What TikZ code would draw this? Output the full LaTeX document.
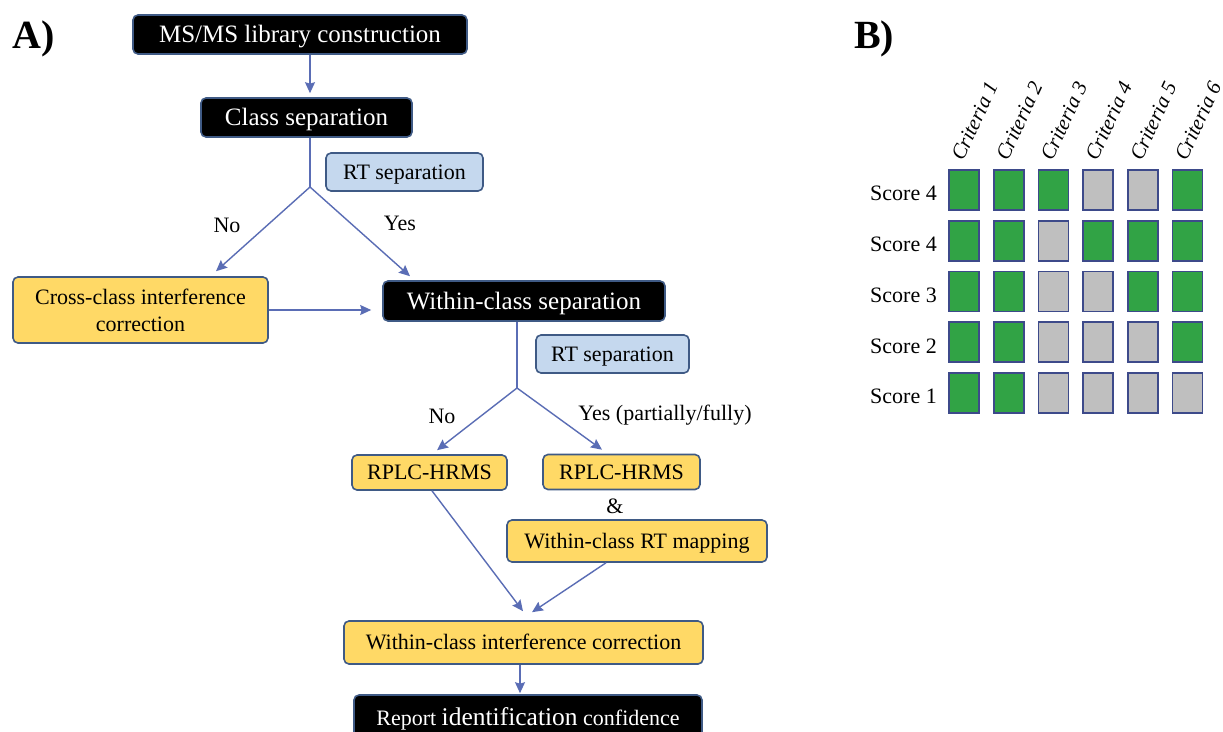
\documentclass[tikz,border=0pt]{standalone}
\usepackage{fontspec}
\setmainfont{Liberation Serif}
\usetikzlibrary{arrows.meta}
\definecolor{bord}{HTML}{3F5A85}
\definecolor{arrc}{HTML}{5A6DB5}
\definecolor{yel}{HTML}{FFD966}
\definecolor{lblue}{HTML}{C5D8EE}
\definecolor{grn}{HTML}{31A345}
\definecolor{gry}{HTML}{BFBFBF}
\definecolor{sqb}{HTML}{3D4A8A}
\tikzset{
  base/.style={draw=bord, line width=1.6pt, rounded corners=5pt, inner sep=0pt, align=center},
  blackbox/.style={base, fill=black, text=white, font=\fontsize{25}{30}\selectfont, text height=16.5pt, text depth=0pt},
  yelbox/.style={base, fill=yel, text=black, font=\fontsize{22}{27}\selectfont},
  capy/.style={text height=14.5pt, text depth=0pt},
  bluebox/.style={base, fill=lblue, text=black, font=\fontsize{22}{27}\selectfont, capy},
  lbl/.style={inner sep=0pt, font=\fontsize{22}{27}\selectfont},
  ln/.style={draw=arrc, line width=1.4pt},
  arw/.style={ln, -{Stealth[length=11pt,width=10pt,inset=1.5pt]}},
  sq/.style={draw=sqb, line width=1.8pt, minimum width=30pt, minimum height=40pt, inner sep=0pt},
  gsq/.style={sq, fill=grn},
  ysq/.style={sq, fill=gry},
  panel/.style={inner sep=0pt, font=\fontsize{40}{44}\selectfont\bfseries}
}
\begin{document}
\begin{tikzpicture}[x=1pt,y=-1pt]
\useasboundingbox (0,0) rectangle (1223,731);
\clip (0,0) rectangle (1223,731);
\fill[white] (0,0) rectangle (1223,731);

% panel labels
\node[panel, anchor=base west] (lbA) at (12,48) {A)};
\node[panel, anchor=base west] (lbB) at (854,48) {B)};

% flowchart nodes
\node[blackbox, minimum width=334pt, minimum height=39pt] (ms) at (300,34.5) {MS/MS library construction};
\node[blackbox, minimum width=211pt, minimum height=39pt] (cls) at (306.5,117.5) {Class separation};
\node[bluebox, minimum width=157pt, minimum height=38pt] (rt1) at (404.5,172) {RT separation};
\node[yelbox, minimum width=255pt, minimum height=66pt] (cross) at (140.5,310) {Cross-class interference\\correction};
\node[blackbox, minimum width=282pt, minimum height=40pt] (within) at (524,301) {Within-class separation};
\node[bluebox, minimum width=153pt, minimum height=38pt] (rt2) at (612.5,354) {RT separation};
\node[yelbox, capy, minimum width=155pt, minimum height=35pt] (rplcL) at (429.5,472.5) {RPLC-HRMS};
\node[yelbox, capy, minimum width=157pt, minimum height=35pt] (rplcR) at (621.5,472) {RPLC-HRMS};
\node[lbl] (amp) at (615,506) {\&};
\node[yelbox, capy, minimum width=260pt, minimum height=42pt] (map) at (637,541) {Within-class RT mapping};
\node[yelbox, capy, minimum width=359pt, minimum height=43pt] (wic) at (523.5,642.5) {Within-class interference correction};
\node[blackbox, text height=15pt, minimum width=348pt, minimum height=45pt] (rep) at (528,717.5)
  {{\fontsize{22}{26}\selectfont Report }{\fontsize{25.5}{30}\selectfont identification}{\fontsize{22}{26}\selectfont\ confidence}};

% branch labels
\node[lbl] (no1) at (227,225) {No};
\node[lbl] (yes1) at (400,223) {Yes};
\node[lbl] (no2) at (442,416) {No};
\node[lbl] (yes2) at (665,415) {Yes (partially/fully)};

% branch points
\coordinate (b1) at (310,187);
\coordinate (b2) at (517,388);

% connectors
\draw[arw] ([xshift=10pt]ms.south) -- ([xshift=3.5pt,yshift=4pt]cls.north);
\draw[ln] ([xshift=3.5pt]cls.south) -- (b1);
\draw[arw] (b1) -- ([xshift=75.5pt,yshift=5pt]cross.north);
\draw[arw] (b1) -- ([xshift=-114pt,yshift=4pt]within.north);
\draw[arw, shorten >=11pt] (cross.east) -- (cross.east -| within.west);
\draw[ln] ([xshift=-7pt]within.south) -- (b2);
\draw[arw] (b2) -- ([xshift=7.5pt,yshift=4pt]rplcL.north);
\draw[arw] (b2) -- ([xshift=-19.5pt,yshift=4pt]rplcR.north);
\draw[arw] ([xshift=2.5pt]rplcL.south) -- ([xshift=-0.5pt,yshift=9pt]wic.north);
\draw[arw] ([xshift=-31pt]map.south) -- ([xshift=8.5pt,yshift=8pt]wic.north);
\draw[arw] ([xshift=-3.5pt]wic.south) -- ([xshift=-8pt,yshift=1pt]rep.north);

% panel B grid
\foreach \r/\lab in {1/4, 2/4, 3/3, 4/2, 5/1}{
  \pgfmathsetmacro{\yy}{193.5+50.75*(\r-1)}
  \node[lbl, capy, anchor=east] (sc\r) at (937,\yy) {Score \lab};
}
\foreach \r/\pat in {1/{g,g,g,y,y,g}, 2/{g,g,y,g,g,g}, 3/{g,g,y,y,g,g}, 4/{g,g,y,y,y,g}, 5/{g,g,y,y,y,y}}{
  \pgfmathsetmacro{\yy}{190+50.75*(\r-1)}
  \foreach \t [count=\c] in \pat {
    \pgfmathsetmacro{\xx}{964+44.7*(\c-1)}
    \node[\t sq] (sq-\r-\c) at (\xx,\yy) {};
  }
}
\foreach \c in {1,...,6}{
  \pgfmathsetmacro{\xx}{963+44.7*(\c-1)}
  \node[lbl, font=\fontsize{21}{25}\selectfont\itshape, rotate=65, anchor=base west] (crit\c) at (\xx,162) {Criteria \c};
}
\end{tikzpicture}
\end{document}
